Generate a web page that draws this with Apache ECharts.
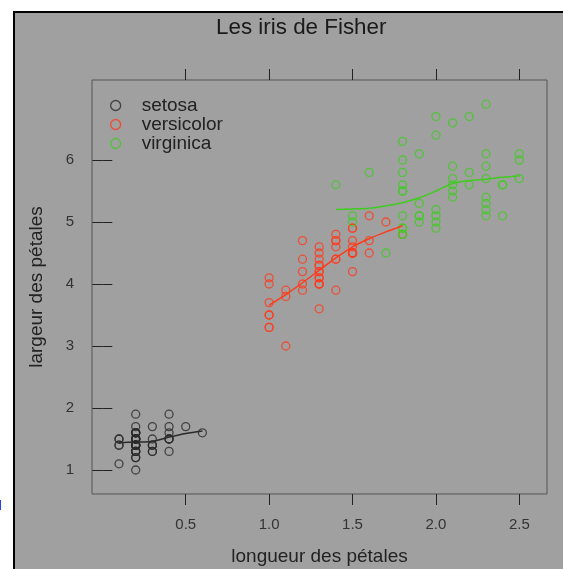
<!DOCTYPE html>
<html>
<head>
<meta charset="utf-8">
<script src="https://cdn.jsdelivr.net/npm/echarts@6/dist/echarts.min.js"></script>
<style>
html, body { margin: 0; padding: 0; background: #fff; }
#frame { position: absolute; left: 13px; top: 11px; width: 548px; height: 556px;
  border-left: 2px solid #000; border-top: 2px solid #000; background: #a0a0a0; }
#chart_iris { position: absolute; left: 0; top: 0; width: 563px; height: 569px; }
</style>
</head>
<body>
<div id="frame"></div>
<div id="chart_iris"></div>
<script>
// petal width, petal length
const setosaPoints = [
  [0.2,1.4],[0.2,1.4],[0.2,1.3],[0.2,1.5],[0.2,1.4],[0.4,1.7],[0.3,1.4],[0.2,1.5],[0.2,1.4],[0.1,1.5],
  [0.2,1.5],[0.2,1.6],[0.1,1.4],[0.1,1.1],[0.2,1.2],[0.4,1.5],[0.4,1.3],[0.3,1.4],[0.3,1.7],[0.3,1.5],
  [0.2,1.7],[0.4,1.5],[0.2,1.0],[0.5,1.7],[0.2,1.9],[0.2,1.6],[0.4,1.6],[0.2,1.5],[0.2,1.4],[0.2,1.6],
  [0.2,1.6],[0.4,1.5],[0.1,1.5],[0.2,1.4],[0.2,1.5],[0.2,1.2],[0.2,1.3],[0.1,1.4],[0.2,1.3],[0.2,1.5],
  [0.3,1.3],[0.3,1.3],[0.2,1.3],[0.6,1.6],[0.4,1.9],[0.3,1.4],[0.2,1.6],[0.2,1.4],[0.2,1.5],[0.2,1.4]
];
const versicolorPoints = [
  [1.4,4.7],[1.5,4.5],[1.5,4.9],[1.3,4.0],[1.5,4.6],[1.3,4.5],[1.6,4.7],[1.0,3.3],[1.3,4.6],[1.4,3.9],
  [1.0,3.5],[1.5,4.2],[1.0,4.0],[1.4,4.7],[1.3,3.6],[1.4,4.4],[1.5,4.5],[1.0,4.1],[1.5,4.5],[1.1,3.9],
  [1.8,4.8],[1.3,4.0],[1.5,4.9],[1.2,4.7],[1.3,4.3],[1.4,4.4],[1.4,4.8],[1.7,5.0],[1.5,4.5],[1.0,3.5],
  [1.1,3.8],[1.0,3.7],[1.2,3.9],[1.6,5.1],[1.5,4.5],[1.6,4.5],[1.5,4.7],[1.3,4.4],[1.3,4.1],[1.3,4.0],
  [1.2,4.4],[1.4,4.6],[1.2,4.0],[1.0,3.3],[1.3,4.2],[1.2,4.2],[1.3,4.2],[1.3,4.3],[1.1,3.0],[1.3,4.1]
];
const virginicaPoints = [
  [2.5,6.0],[1.9,5.1],[2.1,5.9],[1.8,5.6],[2.2,5.8],[2.1,6.6],[1.7,4.5],[1.8,6.3],[1.8,5.8],[2.5,6.1],
  [2.0,5.1],[1.9,5.3],[2.1,5.5],[2.0,5.0],[2.4,5.1],[2.3,5.3],[1.8,5.5],[2.2,6.7],[2.3,6.9],[1.5,5.0],
  [2.3,5.7],[2.0,4.9],[2.0,6.7],[1.8,4.9],[2.1,5.7],[1.8,6.0],[1.8,4.8],[1.8,4.9],[2.1,5.6],[1.6,5.8],
  [1.9,6.1],[2.0,6.4],[2.2,5.6],[1.5,5.1],[1.4,5.6],[2.3,6.1],[2.4,5.6],[1.8,5.5],[1.8,4.8],[2.1,5.4],
  [2.4,5.6],[2.3,5.1],[1.9,5.1],[2.3,5.9],[2.5,5.7],[2.3,5.2],[1.9,5.0],[2.0,5.2],[2.3,5.4],[1.8,5.1]
];

// smoothed curves
const setosaCurve = [[0.1,1.44],[0.2,1.45],[0.3,1.46],[0.4,1.53],[0.5,1.59],[0.6,1.63]];
const versicolorCurve = [[1.0,3.66],[1.1,3.83],[1.2,4.02],[1.3,4.22],[1.4,4.42],[1.5,4.6],[1.6,4.73],[1.7,4.84],[1.8,4.94]];
const virginicaCurve = [[1.4,5.2],[1.5,5.21],[1.6,5.22],[1.7,5.26],[1.8,5.31],[1.9,5.39],[2.0,5.5],[2.1,5.62],[2.2,5.67],[2.3,5.69],[2.4,5.72],[2.5,5.74]];

const speciesNames = ['setosa', 'versicolor', 'virginica'];
const speciesColors = ['#2a2a2a', '#ff3a1a', '#3fcc1f'];
const xTicks = [0.5, 1.0, 1.5, 2.0, 2.5];
const yTicks = [1, 2, 3, 4, 5, 6];

const FONT = '"Liberation Sans", Arial, sans-serif';
const X_MIN = -0.062, X_MAX = 2.666;
const Y_MIN = 0.613, Y_MAX = 7.29;

function scatterSeries(name, data, color) {
    return {
        name: name,
        type: 'scatter',
        symbol: 'circle',
        symbolSize: 8,
        itemStyle: { color: 'rgba(0,0,0,0)', borderColor: color, borderWidth: 1.3 },
        emphasis: { disabled: true },
        data: data
    };
}

function curveSeries(name, data, color) {
    return {
        name: name,
        type: 'line',
        smooth: 0.3,
        showSymbol: false,
        lineStyle: { color: color, width: 1.5 },
        emphasis: { disabled: true },
        data: data
    };
}

function makeXAxis(position, showLabels) {
    return {
        type: 'value',
        position: position,
        min: X_MIN,
        max: X_MAX,
        axisLine: { show: false },
        splitLine: { show: false },
        axisTick: { show: true, length: 11, customValues: xTicks, lineStyle: { color: '#222', width: 1 } },
        axisLabel: {
            show: showLabels,
            customValues: xTicks,
            margin: 23,
            color: '#333',
            fontFamily: FONT,
            fontSize: 15,
            formatter: v => v.toFixed(1)
        }
    };
}

function makeYAxis(position, showLabels) {
    return {
        type: 'value',
        position: position,
        min: Y_MIN,
        max: Y_MAX,
        axisLine: { show: false },
        splitLine: { show: false },
        axisTick: { show: true, length: 10, customValues: yTicks, lineStyle: { color: '#222', width: 1 } },
        axisLabel: {
            show: showLabels,
            customValues: yTicks,
            margin: 18,
            color: '#333',
            fontFamily: FONT,
            fontSize: 15,
            formatter: v => String(v)
        }
    };
}

const xBottom = makeXAxis('bottom', true);
xBottom.name = 'longueur des pétales';
xBottom.nameLocation = 'middle';
xBottom.nameGap = 53;
xBottom.nameTextStyle = { color: '#222', fontFamily: FONT, fontSize: 19 };

const yLeft = makeYAxis('left', true);
yLeft.name = 'largeur des pétales';
yLeft.nameLocation = 'middle';
yLeft.nameGap = 46;
yLeft.nameRotate = 90;
yLeft.nameTextStyle = { color: '#222', fontFamily: FONT, fontSize: 19 };

const option = {
    animation: false,
    backgroundColor: 'transparent',
    title: {
        text: 'Les iris de Fisher',
        left: 216,
        top: 17,
        padding: 0,
        textStyle: { color: '#1a1a1a', fontFamily: FONT, fontSize: 22.4, fontWeight: 'normal' }
    },
    legend: {
        data: speciesNames,
        orient: 'vertical',
        left: 110,
        top: 96,
        padding: 0,
        itemGap: 0,
        itemWidth: 42,
        itemHeight: 10,
        itemStyle: { borderWidth: 1.3 },
        textStyle: { color: '#222', fontFamily: FONT, fontSize: 19, lineHeight: 19, padding: [0, 0, 0, 0] },
        selectedMode: false
    },
    grid: {
        show: true,
        left: 92,
        top: 80,
        width: 455,
        height: 414,
        outerBoundsMode: 'none',
        containLabel: false,
        borderColor: '#555',
        borderWidth: 1,
        backgroundColor: 'transparent'
    },
    xAxis: [xBottom, makeXAxis('top', false)],
    yAxis: [yLeft, makeYAxis('right', false)],
    graphic: [{
        type: 'text',
        left: -8,
        top: 499,
        style: { text: 'H', fill: '#1a3cff', font: '14px ' + FONT }
    }],
    series: [
        scatterSeries(speciesNames[0], setosaPoints, speciesColors[0]),
        scatterSeries(speciesNames[1], versicolorPoints, speciesColors[1]),
        scatterSeries(speciesNames[2], virginicaPoints, speciesColors[2]),
        curveSeries('setosa lissage', setosaCurve, speciesColors[0]),
        curveSeries('versicolor lissage', versicolorCurve, speciesColors[1]),
        curveSeries('virginica lissage', virginicaCurve, speciesColors[2])
    ]
};

const chart = echarts.init(document.getElementById('chart_iris'), null, { renderer: 'canvas' });
chart.setOption(option);
</script>
</body>
</html>
